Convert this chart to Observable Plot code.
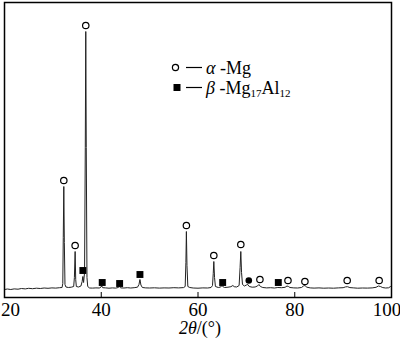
<!DOCTYPE html>
<html>
<head>
<meta charset="utf-8">
<script src="https://cdn.jsdelivr.net/npm/d3@7"></script>
<script src="https://cdn.jsdelivr.net/npm/@observablehq/plot@0.6"></script>
<style>
  html, body { margin: 0; padding: 0; background: white; }
  #chart { width: 400px; height: 340px; }
</style>
</head>
<body>
<div id="chart"></div>
<script>
// XRD profile (2θ in degrees, intensity in arbitrary units)
const twoTheta = [
  20.0, 20.6, 21.3, 22.0, 22.8, 23.5, 24.3, 25.0, 25.8, 26.6, 27.4, 28.2, 29.0, 29.8, 30.6, 31.4, 31.9,
  32.05, 32.15, 32.26, 32.37, 32.5, 32.7, 33.2, 33.8, 34.3, 34.45, 34.6, 34.72, 34.85, 35.3, 35.8,
  36.05, 36.2, 36.35, 36.55, 36.7, 36.8, 36.9, 37.05, 37.2, 37.6, 38.2, 38.9, 39.6, 39.95, 40.1, 40.3,
  40.9, 41.6, 42.3, 43.0, 43.5, 43.75, 44.0, 44.7, 45.4, 46.1, 46.8, 47.5, 47.8, 48.0, 48.2, 48.5,
  49.2, 50.0, 51.0, 52.0, 53.0, 54.0, 55.0, 56.0, 57.0, 57.35, 57.5, 57.6, 57.72, 57.9, 58.3, 59.0,
  60.0, 61.0, 62.0, 62.7, 63.0, 63.15, 63.27, 63.42, 63.6, 64.2, 64.7, 64.9, 65.1, 65.5, 66.2, 66.8,
  67.2, 67.5, 68.0, 68.5, 68.7, 68.85, 69.0, 69.2, 69.6, 70.0, 70.3, 70.6, 71.2, 71.8, 72.3, 72.6,
  72.9, 73.4, 74.2, 75.0, 75.8, 76.5, 77.3, 78.0, 78.4, 78.7, 79.0, 79.8, 80.6, 81.4, 81.8, 82.1,
  82.5, 83.2, 84.0, 85.0, 86.0, 87.0, 88.0, 89.0, 90.0, 90.5, 90.9, 91.4, 92.2, 93.0, 94.0, 95.0,
  96.0, 96.8, 97.3, 97.7, 98.2, 98.8, 99.4, 99.8, 100.0
];
const intensity = [
  8, 8.5, 8, 8.6, 8.3, 9, 8.6, 9.2, 8.8, 9.3, 9, 9.5, 9.2, 9.6, 9.4, 9.8, 10,
  14, 60, 111, 55, 13, 10.5, 10, 10.3, 11, 20, 46, 18, 11, 10.5, 11.5,
  16, 21, 15, 25, 150, 266, 150, 20, 11, 9.5, 9.4, 9.6, 9.5, 10.5, 11.5, 9.8,
  9.6, 9.3, 9.6, 9.4, 10, 11, 9.6, 9.5, 9.8, 9.5, 9.8, 10.3, 13, 18, 12.5, 10,
  9.6, 9.5, 9.7, 9.4, 9.6, 9.5, 9.8, 9.6, 9.9, 11, 35, 66, 32, 11, 10, 9.5,
  9.3, 9.6, 9.5, 10, 12, 24, 36, 20, 11, 10, 10.5, 12, 11, 10, 10.3, 10.8,
  12, 10.8, 10.5, 12, 30, 46, 25, 13, 11.5, 12.5, 13, 11, 10.3, 10.5, 11.5, 13,
  11, 10, 9.6, 9.8, 9.5, 10, 9.8, 10.2, 11.5, 11, 10, 9.6, 9.5, 10, 11.5, 12,
  10.3, 9.6, 9.4, 9.6, 9.3, 9.5, 9.3, 9.6, 9.8, 10.6, 10.8, 9.9, 9.6, 9.3, 9.5, 9.4,
  9.6, 10.2, 11.5, 11, 9.9, 9.5, 9.7, 11, 10.5
];

// Phase markers: α-Mg (open circles), β-Mg17Al12 (filled squares, one filled dot)
const alphaX = [32.26, 34.6, 36.8, 57.6, 63.27, 68.85, 72.8, 78.6, 82.1, 90.84, 97.45];
const alphaY = [117, 52, 272, 72, 42, 53, 18, 17, 16, 17, 17];
const betaX = [36.2, 40.2, 43.8, 48.0, 65.1, 76.6];
const betaY = [27, 15, 14, 23, 15, 15];
const betaDotX = [70.5];
const betaDotY = [17];

const xTicks = [20, 40, 60, 80, 100];
const xLabel = ["2θ", "/(°)"];
const legendLabels = ["α", " -Mg", "β", " -Mg", "17", "Al", "12"];

const profile = twoTheta.map((t, i) => ({t, v: intensity[i]}));
const alpha = alphaX.map((t, i) => ({t, v: alphaY[i]}));
const beta = betaX.map((t, i) => ({t, v: betaY[i]}));
const betaDot = betaDotX.map((t, i) => ({t, v: betaDotY[i]}));

const H = 340, mt = 2, mb = 43;
const plot = Plot.plot({
  width: 400,
  height: H,
  marginLeft: 4,
  marginRight: 9,
  marginTop: mt,
  marginBottom: mb,
  style: {fontFamily: "'Liberation Serif', 'Times New Roman', serif", background: "white", color: "black"},
  x: {domain: [20, 100]},
  y: {domain: [0, 295], axis: null},
  marks: [
    Plot.line(profile, {x: "t", y: "v", stroke: "#222", strokeWidth: 1}),
    Plot.dot(alpha, {x: "t", y: "v", r: 3.2, fill: "white", stroke: "black", strokeWidth: 1.2}),
    Plot.dot(beta, {x: "t", y: "v", symbol: "square", r: 3.9, fill: "black", stroke: "none"}),
    Plot.dot(betaDot, {x: "t", y: "v", r: 3.3, fill: "black", stroke: "none"}),
    Plot.tickX(xTicks.slice(1, -1), {x: d => d, insetTop: H - mt - mb - 5, stroke: "black", strokeWidth: 1}),
    Plot.axisX(xTicks.slice(1, -1), {tickSize: 0, tickPadding: 5, fontSize: 19, label: null}),
    Plot.axisX([xTicks[0]], {tickSize: 0, tickPadding: 5, fontSize: 19, label: null, dx: 6}),
    Plot.axisX([xTicks[xTicks.length - 1]], {tickSize: 0, tickPadding: 5, fontSize: 19, label: null, dx: -4.5}),
    Plot.frame({stroke: "black", strokeWidth: 1.5})
  ]
});
document.getElementById("chart").appendChild(plot);

const svg = d3.select(plot);
const ff = "'Liberation Serif', 'Times New Roman', serif";

// x-axis title
const xt = svg.append("text").attr("x", 200).attr("y", 334).attr("text-anchor", "middle")
  .attr("font-family", ff).attr("font-size", 18).attr("fill", "black");
xt.append("tspan").attr("font-style", "italic").text(xLabel[0]);
xt.append("tspan").text(xLabel[1]);

// legend
const lg = svg.append("g").attr("font-family", ff).attr("fill", "black").attr("text-anchor", "start");
lg.append("circle").attr("cx", 175.5).attr("cy", 67.5).attr("r", 3.1)
  .attr("fill", "white").attr("stroke", "black").attr("stroke-width", 1.2);
lg.append("line").attr("x1", 186).attr("x2", 202).attr("y1", 67.5).attr("y2", 67.5)
  .attr("stroke", "black").attr("stroke-width", 1.2);
const t1 = lg.append("text").attr("x", 206).attr("y", 74).attr("font-size", 18).attr("text-anchor", "start");
t1.append("tspan").attr("font-style", "italic").text(legendLabels[0]);
t1.append("tspan").text(legendLabels[1]);

lg.append("rect").attr("x", 173.5).attr("y", 84).attr("width", 7).attr("height", 7).attr("fill", "black");
lg.append("line").attr("x1", 186).attr("x2", 202).attr("y1", 87.5).attr("y2", 87.5)
  .attr("stroke", "black").attr("stroke-width", 1.2);
const t2 = lg.append("text").attr("x", 206).attr("y", 94).attr("font-size", 18).attr("text-anchor", "start");
t2.append("tspan").attr("font-style", "italic").text(legendLabels[2]);
t2.append("tspan").text(legendLabels[3]);
t2.append("tspan").attr("font-size", 11).attr("dy", 3).text(legendLabels[4]);
t2.append("tspan").attr("dy", -3).text(legendLabels[5]);
t2.append("tspan").attr("font-size", 11).attr("dy", 3).text(legendLabels[6]);
</script>
</body>
</html>
